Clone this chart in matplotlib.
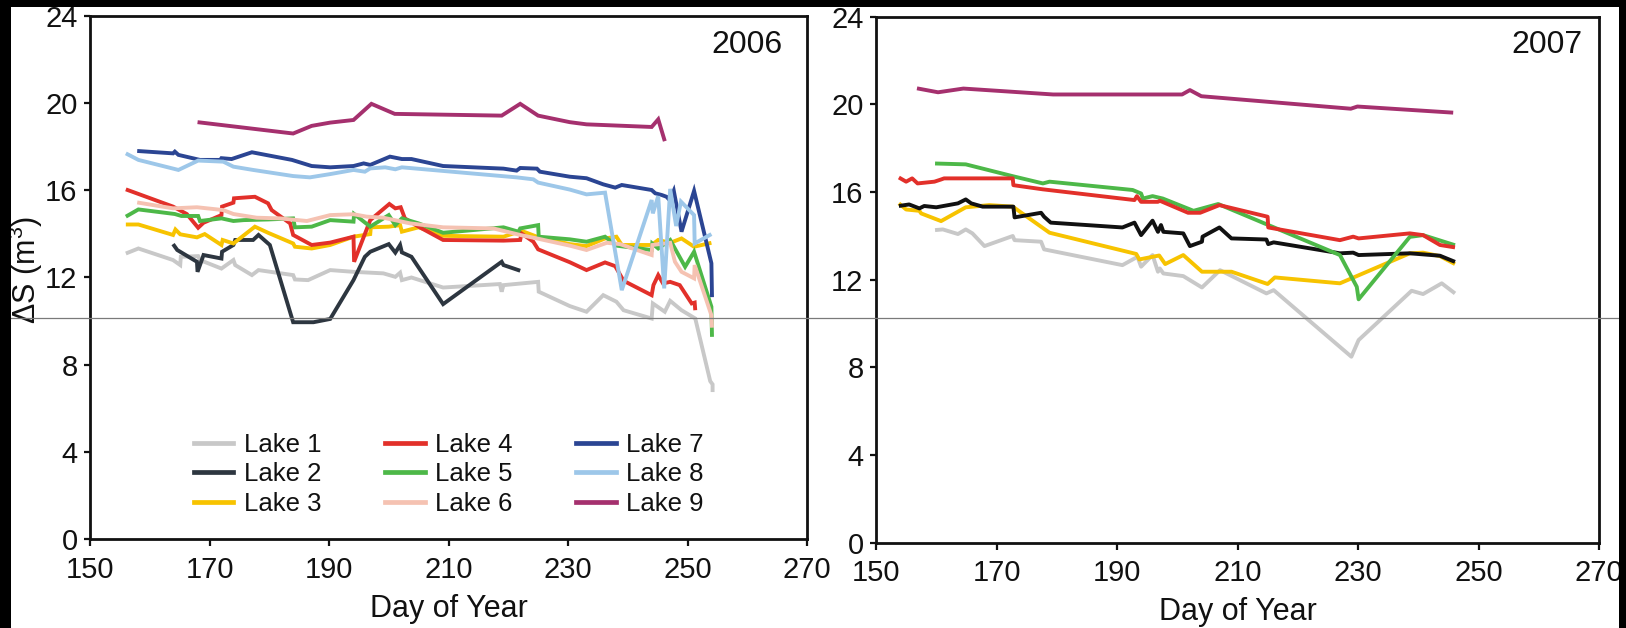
import matplotlib
matplotlib.use("Agg")
import matplotlib.pyplot as plt
from matplotlib.patches import Rectangle
from matplotlib.lines import Line2D

plt.rcParams['font.family'] = ['Liberation Sans', 'DejaVu Sans']
plt.rcParams['mathtext.fontset'] = 'custom'
plt.rcParams['mathtext.rm'] = 'Liberation Sans'
plt.rcParams['mathtext.it'] = 'Liberation Sans'

# ---------------- 2006 season ----------------
d06_lake1 = [156, 158.1, 163.9, 165.1, 165.2, 168.1, 168.4, 172, 174, 174.3, 177.1, 178.2, 184, 184.3, 186.5,
             190.2, 194.1, 199.1, 201.1, 201.9, 202.2, 203.8, 209.1, 218.6, 218.9, 219.2, 225, 225.1, 230.3,
             233.1, 235.9, 238.1, 239.3, 244, 244.2, 246.2, 247.1, 249, 251.3, 253.8, 254.2, 254.2]
v06_lake1 = [13.1, 13.33, 12.8, 12.57, 12.95, 12.98, 12.8, 12.41, 12.8, 12.57, 12.11, 12.34, 12.11, 11.91, 11.88,
             12.34, 12.26, 12.19, 12.03, 12.22, 11.88, 12.0, 11.54, 11.7, 11.35, 11.65, 11.8, 11.35, 10.69,
             10.43, 11.19, 10.89, 10.5, 10.12, 10.81, 10.43, 10.93, 10.5, 10.12, 7.25, 7.1, 6.75]

d06_lake2 = [163.9, 164.6, 167.9, 168.0, 169, 172, 172.1, 174, 174.3, 177.3, 178.2, 180.1, 184, 187.4, 190.2,
             194.1, 196, 196.9, 200, 201.1, 201.9, 202.2, 203.8, 209.1, 218.9, 219.2, 222]
v06_lake2 = [13.53, 13.26, 12.72, 12.26, 13.03, 12.87, 13.18, 13.49, 13.72, 13.72, 13.95, 13.49, 9.95, 9.95, 10.1,
             11.88, 12.95, 13.18, 13.53, 13.14, 13.49, 13.15, 12.95, 10.78, 12.72, 12.57, 12.31]

d06_lake3 = [156, 158.1, 163.9, 164.3, 165.1, 167.9, 169.2, 172, 172.2, 174, 177.6, 179.8, 184, 184.3, 187.1,
             190.2, 194.1, 196.9, 197, 200, 201.9, 202.2, 205, 209.1, 219.2, 222.2, 224.8, 230.3, 233.1,
             236.2, 238.1, 239, 244, 245.1, 247.1, 249, 251.1, 254]
v06_lake3 = [14.43, 14.43, 13.95, 14.2, 13.98, 13.84, 13.99, 13.49, 13.72, 13.56, 14.33, 14.05, 13.56, 13.41, 13.33,
             13.49, 13.87, 13.99, 14.3, 14.33, 14.4, 14.1, 14.3, 13.91, 13.87, 14.14, 13.87, 13.53, 13.44,
             13.79, 13.87, 13.49, 13.49, 13.72, 13.59, 13.79, 13.41, 13.59]

d06_lake4 = [156, 163.9, 166.2, 168.1, 169, 172, 172.1, 174, 174.1, 177.6, 179.8, 180.4, 183.5, 184, 187.1,
             190.2, 194.1, 194.2, 196.9, 200.1, 201.1, 202, 202.7, 205, 209.1, 219.2, 222, 222.2, 224.2, 225,
             230.3, 233.1, 236.2, 237.9, 239.3, 244, 244.3, 245.1, 245.9, 247.1, 248.7, 250.7, 251.2, 251.3]
v06_lake4 = [16.04, 15.25, 14.91, 14.28, 14.51, 14.86, 15.25, 15.43, 15.63, 15.7, 15.4, 15.09, 14.48, 13.95, 13.49,
             13.6, 13.87, 12.72, 14.63, 15.37, 15.17, 15.22, 14.71, 14.33, 13.72, 13.69, 13.72, 14.02, 13.64, 13.29,
             12.7, 12.34, 12.69, 12.52, 11.85, 11.19, 11.65, 12.11, 11.73, 11.8, 11.65, 10.81, 10.85, 10.5]

d06_lake5 = [156, 158.1, 164.2, 165.3, 168.1, 168.4, 172, 174, 175.7, 179.8, 184, 184.3, 187.1, 190.2, 194.1,
             194.2, 196.9, 200, 201.1, 202.2, 205, 209.1, 219.2, 221.7, 222, 225, 225.1, 230.3, 233.1, 236.2,
             238.1, 244, 244.1, 245.1, 247.1, 249.6, 251.1, 254, 254.1]
v06_lake5 = [14.79, 15.12, 14.91, 14.82, 14.82, 14.59, 14.71, 14.59, 14.63, 14.66, 14.71, 14.3, 14.33, 14.63, 14.56,
             14.91, 14.33, 14.86, 14.4, 14.71, 14.48, 14.05, 14.3, 14.1, 14.25, 14.4, 13.87, 13.75, 13.64, 13.87,
             13.46, 13.26, 13.56, 13.33, 13.72, 12.49, 13.18, 10.66, 9.28]

d06_lake6 = [157.9, 163.9, 167.9, 172.3, 174, 177.9, 181.8, 186.3, 190.2, 194.1, 196.3, 199.1, 203.6, 209.1,
             217.5, 222, 224.8, 230.3, 233.1, 236.5, 238.7, 244, 244.1, 247.1, 247.9, 249, 251.1, 251.2, 254, 254.1]
v06_lake6 = [15.44, 15.17, 15.22, 15.09, 14.91, 14.74, 14.71, 14.59, 14.86, 14.9, 14.79, 14.74, 14.48, 14.3,
             14.25, 13.95, 13.79, 13.46, 13.26, 13.59, 13.53, 13.03, 13.49, 13.59, 12.72, 12.26, 11.96, 12.57, 10.27, 9.7]

d06_lake7 = [157.9, 163.9, 164.2, 164.8, 168.4, 171.8, 172, 173.7, 177.1, 183.8, 187.1, 190.2, 194.1, 195.8,
             196.9, 200.2, 202.2, 203.8, 209.1, 219.2, 221.4, 222, 224.8, 225.3, 230.3, 233.1, 235.9, 237.9,
             239, 244, 244.6, 245.7, 246.5, 247, 247.7, 249, 251.1, 254, 254.1]
v06_lake7 = [17.8, 17.69, 17.77, 17.62, 17.39, 17.39, 17.47, 17.43, 17.74, 17.39, 17.11, 17.05, 17.11, 17.23,
             17.16, 17.54, 17.43, 17.43, 17.11, 16.99, 16.9, 17.02, 16.99, 16.85, 16.62, 16.55, 16.27, 16.12,
             16.24, 16.01, 15.86, 15.78, 15.7, 15.55, 15.98, 14.1, 15.97, 12.65, 11.1]

d06_lake8 = [156, 158.1, 164.8, 168.1, 172.3, 174, 177.3, 184, 186.8, 190.2, 194.1, 196, 196.9, 199.4, 201.1,
             202.2, 221.4, 224.2, 225, 230.3, 233.1, 236.2, 239, 244, 244.2, 245.1, 246.1, 247.1, 248.1, 248.9,
             251.1, 251.2, 254]
v06_lake8 = [17.69, 17.39, 16.93, 17.36, 17.31, 17.08, 16.93, 16.65, 16.59, 16.74, 16.93, 16.85, 17.0, 17.05, 16.96,
             17.05, 16.59, 16.5, 16.35, 16.03, 15.81, 15.89, 11.42, 15.55, 14.94, 15.73, 11.5, 16.06, 14.36, 15.48,
             14.86, 13.56, 13.99]

d06_lake9 = [168, 184, 187.1, 190.2, 194.1, 197.1, 201, 218.9, 222, 225, 230.3, 233.1, 244, 245.1, 246.2]
v06_lake9 = [19.12, 18.6, 18.95, 19.1, 19.22, 19.96, 19.5, 19.42, 19.96, 19.42, 19.12, 19.02, 18.9, 19.25, 18.25]

# ---------------- 2007 season ----------------
d07_lake1 = [159.8, 161.1, 163.6, 164.9, 166, 168, 172.7, 173, 177.4, 177.9, 190.9, 193.4, 194, 195.9, 196.8,
             197.1, 197.7, 201, 204.1, 207.1, 214.8, 216, 228.9, 230.1, 238.9, 240.8, 243.9, 246.1]
v07_lake1 = [14.26, 14.29, 14.08, 14.29, 14.11, 13.53, 13.99, 13.8, 13.73, 13.38, 12.66, 13.04, 12.59, 13.12, 12.36,
             12.51, 12.28, 12.16, 11.64, 12.43, 11.37, 11.52, 8.48, 9.24, 11.49, 11.34, 11.83, 11.37]

d07_lake2 = [153.8, 155.5, 157.2, 158, 160, 163.6, 164.9, 165.8, 167.7, 172.8, 173, 177.4, 177.9, 179, 190.9,
             192.9, 194, 195.9, 196.8, 197.3, 197.7, 201, 202.1, 204.1, 204.2, 207, 209, 214.8, 215.1, 216, 227,
             229.2, 230.1, 238.6, 243.6, 246.1]
v07_lake2 = [15.36, 15.43, 15.25, 15.36, 15.3, 15.48, 15.66, 15.48, 15.33, 15.33, 14.84, 15.05, 14.87, 14.6, 14.38,
             14.6, 14.03, 14.69, 14.18, 14.49, 14.18, 14.11, 13.53, 13.73, 13.96, 14.38, 13.88, 13.83, 13.62, 13.7, 13.2,
             13.23, 13.12, 13.2, 13.09, 12.81]

d07_lake3 = [153.8, 155, 157.2, 157.5, 160.8, 164.9, 168.8, 172.7, 178.8, 193.2, 193.7, 197, 198, 201, 204.1,
             209, 215, 216.2, 227, 238.6, 240.8, 243.6, 246.1]
v07_lake3 = [15.48, 15.2, 15.14, 15.02, 14.67, 15.3, 15.4, 15.33, 14.14, 13.17, 12.92, 13.1, 12.71, 13.12, 12.36,
             12.36, 11.8, 12.1, 11.83, 13.2, 13.23, 13.07, 12.71]

d07_lake4 = [153.8, 155, 156, 156.9, 159.7, 160.8, 161.3, 172.7, 172.8, 177.7, 192.9, 193.3, 194, 196.8, 197.1,
             201.8, 203.8, 207, 215, 215.1, 227, 229.2, 230.1, 238.6, 240.8, 243.6, 246.1]
v07_lake4 = [16.66, 16.47, 16.62, 16.39, 16.47, 16.57, 16.62, 16.62, 16.31, 16.12, 15.63, 15.81, 15.55, 15.55, 15.6,
             15.05, 15.05, 15.4, 14.87, 14.38, 13.8, 13.96, 13.88, 14.11, 14.03, 13.58, 13.47]

d07_lake5 = [159.8, 164.9, 172.7, 177.7, 178.8, 192.6, 194, 194.3, 195.9, 197.6, 202.7, 206.8, 227, 229.8, 230.1,
             238.6, 240.8, 246.1]
v07_lake5 = [17.3, 17.26, 16.72, 16.39, 16.47, 16.09, 15.93, 15.7, 15.81, 15.7, 15.14, 15.45, 13.12, 11.67, 11.1,
             13.95, 14.03, 13.57]

d07_lake9 = [156.8, 160.3, 164.5, 179.4, 200.8, 202.1, 204, 228.8, 229.9, 245.8]
v07_lake9 = [20.73, 20.55, 20.72, 20.45, 20.45, 20.65, 20.37, 19.8, 19.9, 19.62]

lake_names = ["Lake 1", "Lake 2", "Lake 3", "Lake 4", "Lake 5", "Lake 6", "Lake 7", "Lake 8", "Lake 9"]
lake_colors = ["#c8c8c8", "#2d3640", "#f7c300", "#e2302a", "#4db848", "#f5c2b2", "#2b4593", "#9dc7e9", "#a5306e"]
lake2_2007_color = "#111111"

x_ticks = [150, 170, 190, 210, 230, 250, 270]
y_ticks = [0, 4, 8, 12, 16, 20, 24]

W, H = 1626, 628
fig = plt.figure(figsize=(W / 100, H / 100), dpi=100)
fig.patch.set_facecolor("white")

ax1 = fig.add_axes([90 / W, 1 - 539.3 / H, 717 / W, 523.6 / H])
ax2 = fig.add_axes([876 / W, 1 - 542.5 / H, 723 / W, 525.8 / H])

LW = 2.8
series06 = [(d06_lake1, v06_lake1), (d06_lake2, v06_lake2), (d06_lake3, v06_lake3),
            (d06_lake4, v06_lake4), (d06_lake5, v06_lake5), (d06_lake6, v06_lake6),
            (d06_lake7, v06_lake7), (d06_lake8, v06_lake8), (d06_lake9, v06_lake9)]
for (d, v), c, name in zip(series06, lake_colors, lake_names):
    ax1.plot(d, v, color=c, lw=LW, solid_joinstyle="miter", solid_capstyle="butt", label=name)

ax2.plot(d07_lake1, v07_lake1, color=lake_colors[0], lw=LW, solid_capstyle="butt")
ax2.plot(d07_lake3, v07_lake3, color=lake_colors[2], lw=LW, solid_capstyle="butt")
ax2.plot(d07_lake2, v07_lake2, color=lake2_2007_color, lw=LW, solid_capstyle="butt")
ax2.plot(d07_lake5, v07_lake5, color=lake_colors[4], lw=LW, solid_capstyle="butt")
ax2.plot(d07_lake4, v07_lake4, color=lake_colors[3], lw=LW, solid_capstyle="butt")
ax2.plot(d07_lake9, v07_lake9, color=lake_colors[8], lw=LW, solid_capstyle="butt")

for ax in (ax1, ax2):
    ax.set_xlim(150, 270)
    ax.set_ylim(0, 24)
    ax.set_xticks(x_ticks)
    ax.set_yticks(y_ticks)
    ax.tick_params(axis="both", labelsize=21, color="#111111", labelcolor="#111111", width=1.6)
    ax.tick_params(axis="x", direction="out", length=5, pad=7)
    ax.tick_params(axis="y", direction="out", length=4, pad=5)
    for s in ax.spines.values():
        s.set_linewidth(2.0)
        s.set_color("#111111")
    ax.set_xlabel("Day of Year", fontsize=22, labelpad=7, color="#111111")

ax1.text(0.9665, 0.929, "2006", transform=ax1.transAxes, ha="right", va="baseline", fontsize=23, color="#111111")
ax2.text(0.9765, 0.931, "2007", transform=ax2.transAxes, ha="right", va="baseline", fontsize=23, color="#111111")

fig.text(26 / W, 1 - 270 / H, r"ΔS (m$^{3}$)", rotation=90, ha="center", va="center", fontsize=22,
         color="#111111")

handles = [Line2D([], [], color=c, lw=3.4) for c in lake_colors]
ax1.legend(handles, lake_names, ncol=3, loc="upper left", bbox_to_anchor=(0.1445, 0.2035),
           frameon=False, fontsize=18.5, borderpad=0, borderaxespad=0, handlelength=1.55,
           handletextpad=0.42, columnspacing=2.45, labelspacing=0.21, labelcolor="#111111")

# dark frame on the top, left and right edges and a thin rule across the figure
for (x0, y0, w, h) in [(0, H - 7, W, 7), (0, 0, 10.5, H), (1619, 0, 7, H)]:
    fig.add_artist(Rectangle((x0 / W, y0 / H), w / W, h / H, transform=fig.transFigure,
                             facecolor="black", edgecolor="none", zorder=10))
fig.add_artist(Line2D([10.5 / W, 1619 / W], [1 - 318.3 / H, 1 - 318.3 / H], transform=fig.transFigure,
                      color="#7a7a7a", lw=0.9, zorder=9))

fig.savefig("out.png", dpi=100, facecolor="white")
